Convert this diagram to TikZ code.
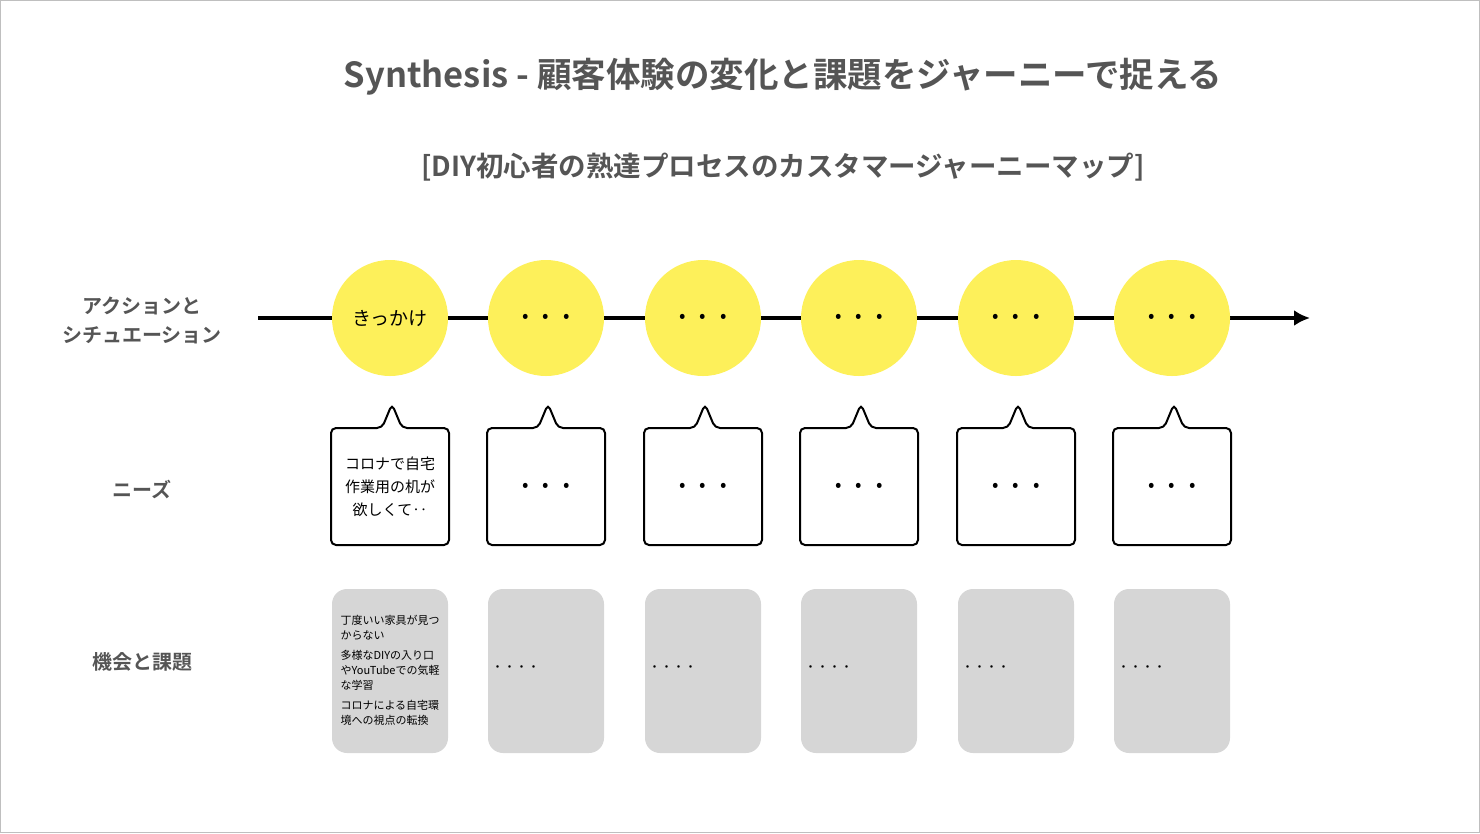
\documentclass[tikz,border=0pt]{standalone}
\usepackage{fontspec}
\usetikzlibrary{arrows.meta}
\setmainfont{Noto Sans CJK JP}
\newfontfamily\jpb{Noto Sans CJK JP Bold}
\definecolor{txt}{HTML}{555555}
\definecolor{yel}{HTML}{FDF05A}
\definecolor{gbox}{HTML}{D6D6D6}
\begin{document}
\begin{tikzpicture}[x=1pt,y=-1pt,
  circ/.style={circle,fill=yel,minimum size=116pt,inner sep=0pt,font=\fontsize{19}{22}\selectfont},
  lab/.style={text=txt,font=\jpb\fontsize{20}{29}\selectfont,align=center},
  need/.style={draw=black,line width=2pt,rounded corners=5pt,fill=white},
  opp/.style={fill=gbox,rounded corners=15pt}]
\useasboundingbox (0,0) rectangle (1480,833);
\draw[gray!50,line width=1pt] (0.5,0.5) rectangle (1479.5,832.5);
\node[text=txt,font=\jpb\fontsize{34.5}{40}\selectfont] (title) at (783,77) {Synthesis - 顧客体験の変化と課題をジャーニーで捉える};
\node[text=txt,font=\jpb\fontsize{27.5}{32}\selectfont] (sub) at (783,167) {[DIY初心者の熟達プロセスのカスタマージャーニーマップ]};
\node[lab] (l1) at (142,320) {アクションと\\シチュエーション};
\node[lab] (l2) at (142,490) {ニーズ};
\node[lab] (l3) at (142,662) {機会と課題};
\coordinate (s) at (258,318);
\coordinate (e) at (1310,318);
\draw[line width=3.5pt,-{Latex[length=16pt,width=16pt]}] (s) -- (e);
\foreach \i/\x in {1/390,2/546,3/703,4/859,5/1016,6/1172}{
  \node[circ] (c\i) at (\x,318) {};
  \draw[need] (\x-59,428) -- (\x-8,428) -- (\x+2,404) -- (\x+12,428) -- (\x+59,428) -- (\x+59,545) -- (\x-59,545) -- cycle;
  \path[opp] (\x-58,589) rectangle (\x+58,753);
  \coordinate (n\i) at (\x,487);
}
\node[font=\fontsize{19}{22}\selectfont] at (c1) {きっかけ};
\foreach \i in {2,...,6}{\node[font=\fontsize{19}{22}\selectfont] at (c\i) {•\hspace{14pt}•\hspace{14pt}•};
  \node[font=\fontsize{19}{22}\selectfont] at (n\i) {•\hspace{14pt}•\hspace{14pt}•};}
\node[font=\fontsize{15}{23}\selectfont,align=center] at (390,487) {コロナで自宅\\作業用の机が\\欲しくて‥};
\node[font=\fontsize{11}{15}\selectfont,align=left,anchor=north west,text width=110pt] at (337,612)
 {丁度いい家具が見つ\\からない\\[5pt]多様なDIYの入り口\\やYouTubeでの気軽\\な学習\\[5pt]コロナによる自宅環\\境への視点の転換};
\foreach \x in {546,703,859,1016,1172}{\node[font=\fontsize{12}{14}\selectfont,anchor=west] at (\x-58,669) {・・・・};}
\end{tikzpicture}
\end{document}
